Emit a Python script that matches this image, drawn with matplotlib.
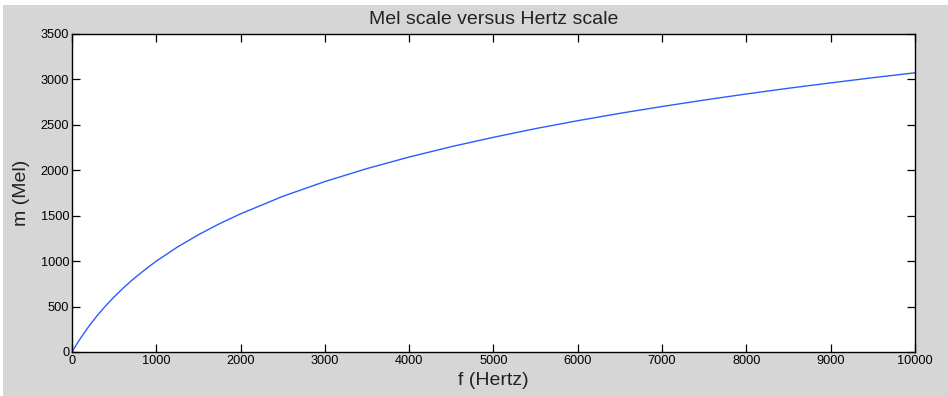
import matplotlib
matplotlib.use("Agg")
import matplotlib.pyplot as plt
from matplotlib.patches import Rectangle

# Werte
freq_hz = [0, 50, 100, 200, 300, 400, 500, 600, 700, 800, 900, 1000, 1250, 1500, 1750,
           2000, 2500, 3000, 3500, 4000, 4500, 5000, 5500, 6000, 6500, 7000, 7500,
           8000, 8500, 9000, 9500, 10000]
mel = [0, 78, 150, 283, 402, 509, 607, 697, 781, 858, 931, 1000, 1155, 1291, 1412,
       1521, 1713, 1876, 2019, 2146, 2260, 2363, 2459, 2546, 2627, 2702, 2773,
       2840, 2903, 2962, 3019, 3073]
xticks = [0, 1000, 2000, 3000, 4000, 5000, 6000, 7000, 8000, 9000, 10000]
yticks = [0, 500, 1000, 1500, 2000, 2500, 3000, 3500]

plt.rcParams['font.family'] = ['Liberation Sans', 'DejaVu Sans']

fig = plt.figure(figsize=(9.48, 3.96), dpi=100, facecolor='#d6d6d6')
# weisser Rand oben und links
fig.patches.append(Rectangle((0, 1 - 5/396), 1, 5/396, transform=fig.transFigure,
                             facecolor='white', edgecolor='none', zorder=-1))
fig.patches.append(Rectangle((0, 0), 3/948, 1, transform=fig.transFigure,
                             facecolor='white', edgecolor='none', zorder=-1))

ax = fig.add_axes([72/948, 1 - 352/396, (915-72)/948, (352-34)/396])
ax.plot(freq_hz, mel, color='#2a5cff', lw=1.0)

ax.set_xlim(0, 10000)
ax.set_ylim(0, 3500)
ax.set_xticks(xticks)
ax.set_yticks(yticks)
ax.tick_params(direction='in', length=6, width=0.9, top=True, right=True,
               labelsize=9.2, pad=2, colors='black')
for s in ax.spines.values():
    s.set_linewidth(1.0)

ax.set_title('Mel scale versus Hertz scale', fontsize=14, pad=7, color='#222222')
ax.set_xlabel('f (Hertz)', fontsize=14, labelpad=4, color='#222222')
ax.set_ylabel('m (Mel)', fontsize=14, labelpad=8, color='#222222')

fig.savefig('out.png', dpi=100, facecolor=fig.get_facecolor())
